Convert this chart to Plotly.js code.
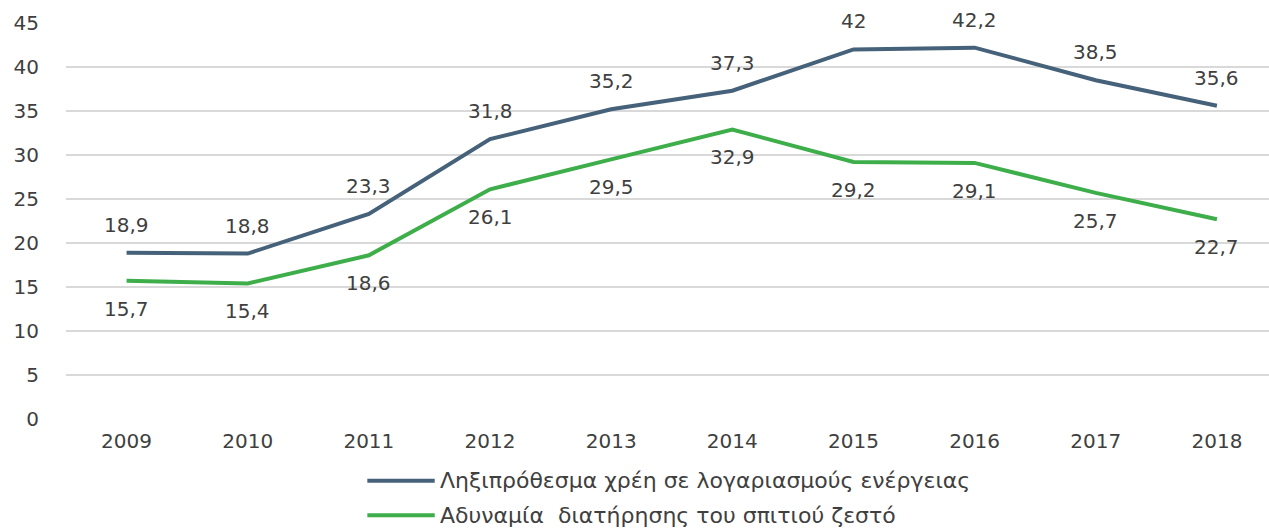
<!DOCTYPE html>
<html><head><meta charset="utf-8">
<script src="https://cdn.plot.ly/plotly-3.0.1.min.js"></script>
<style>body{margin:0;padding:0;background:#fff}#chart{width:1269px;height:530px}</style>
</head><body><div id="chart"></div>
<script>
const years = ['2009','2010','2011','2012','2013','2014','2015','2016','2017','2018'];
const arrears = [18.9, 18.8, 23.3, 31.8, 35.2, 37.3, 42, 42.2, 38.5, 35.6];
const coldHome = [15.7, 15.4, 18.6, 26.1, 29.5, 32.9, 29.2, 29.1, 25.7, 22.7];
const seriesNames = ['Ληξιπρόθεσμα χρέη σε λογαριασμούς ενέργειας', 'Αδυναμία  διατήρησης του σπιτιού ζεστό'];
const yTicks = [0,5,10,15,20,25,30,35,40,45];

const blue = '#46627A', green = '#3DAE49';
const font = 'DejaVu Sans, Verdana, sans-serif';
const txt = '#404040';
const fmt = v => String(v).replace('.', ',');

const traces = [
  {x: years, y: arrears, mode: 'lines', line: {color: blue, width: 4}, name: seriesNames[0], showlegend: false, hoverinfo: 'skip'},
  {x: years, y: coldHome, mode: 'lines', line: {color: green, width: 4}, name: seriesNames[1], showlegend: false, hoverinfo: 'skip'}
];

const annotations = [];
years.forEach((yr, i) => {
  annotations.push({x: i, y: arrears[i], xref: 'x', yref: 'y', text: fmt(arrears[i]), showarrow: false, yshift: 28, font: {family: font, size: 20, color: txt}});
  annotations.push({x: i, y: coldHome[i], xref: 'x', yref: 'y', text: fmt(coldHome[i]), showarrow: false, yshift: -28, font: {family: font, size: 20, color: txt}});
});

// custom legend
const legendY = [-0.156, -0.243];
const shapes = [];
[blue, green].forEach((c, i) => {
  shapes.push({type: 'line', xref: 'paper', yref: 'paper', x0: 0.2505, x1: 0.3065, y0: legendY[i], y1: legendY[i], line: {color: c, width: 4}});
  annotations.push({xref: 'paper', yref: 'paper', x: 0.309, y: legendY[i], xanchor: 'left', yanchor: 'middle', text: seriesNames[i], showarrow: false, font: {family: font, size: 22, color: txt}});
});

const layout = {
  width: 1269, height: 530,
  margin: {l: 66, r: 0, t: 22.7, b: 110.7},
  paper_bgcolor: '#fff', plot_bgcolor: '#fff',
  font: {family: font, color: txt, size: 20},
  xaxis: {type: 'category', range: [-0.5, 9.43], showgrid: false, zeroline: false, showline: false, ticks: '', tickfont: {family: font, size: 20, color: txt}, ticklabelstandoff: 8, fixedrange: true},
  yaxis: {range: [0, 45], tickvals: yTicks, ticktext: yTicks.map(String), showgrid: true, gridcolor: '#d9d9d9', gridwidth: 1.5, zeroline: false, showline: false, ticks: '', tickfont: {family: font, size: 20, color: txt}, ticklabelstandoff: 26, fixedrange: true},
  annotations: annotations,
  shapes: shapes,
  showlegend: false
};

Plotly.newPlot('chart', traces, layout, {displayModeBar: false, staticPlot: true});
</script></body></html>
